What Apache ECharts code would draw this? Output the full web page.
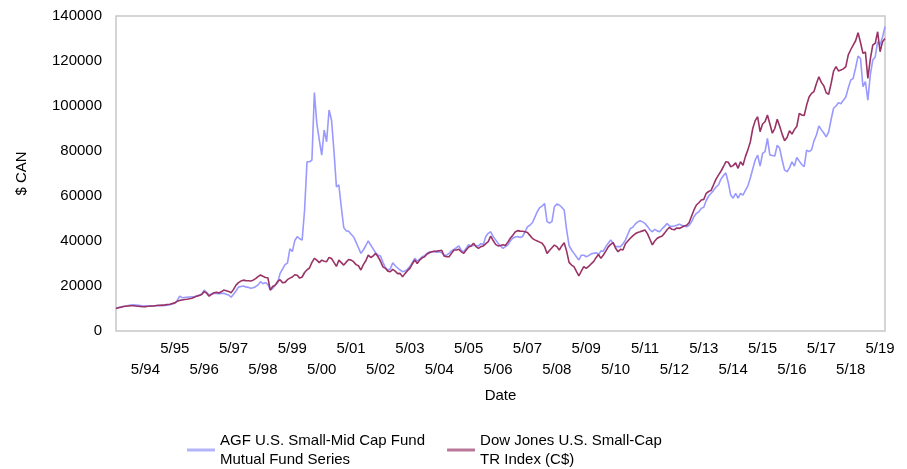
<!DOCTYPE html>
<html>
<head>
<meta charset="utf-8">
<script src="https://cdn.jsdelivr.net/npm/echarts@6/dist/echarts.min.js"></script>
<style>
  html, body { margin: 0; padding: 0; background: #fff; }
  #chart { width: 907px; height: 469px; }
</style>
</head>
<body>
<div id="chart"></div>
<script>
// Monthly growth of $10,000 (CAD), May 1993 to July 2019.
const startYear = 1993;
const startMonth = 5;
const monthCount = 315;

const seriesNames = [
  'AGF U.S. Small-Mid Cap Fund\nMutual Fund Series',
  'Dow Jones U.S. Small-Cap\nTR Index (C$)'
];

// AGF U.S. Small-Mid Cap Fund, one row per May-April year
const agfFund = [
  10000, 10400, 10700, 10900, 11100, 11300, 11500, 11600, 11500, 11400, 11300, 11100,
  11200, 11000, 11100, 11000, 11200, 11400, 11300, 11200, 11300, 11500, 11700, 12000,
  12300, 13600, 15500, 14800, 14900, 15000, 15100, 15200, 15300, 15600, 16000, 16400,
  18200, 17200, 16000, 16500, 16800, 16700, 16600, 16700, 16800, 16300, 16000, 15000,
  16300, 17800, 19500, 19800, 20000, 19600, 19400, 19000, 19200, 19700, 20500, 21900,
  21000, 21500, 20700, 18200, 19000, 20200, 21400, 25600, 27500, 29500, 30200, 36500,
  35300, 40200, 41900, 41000, 40400, 53800, 75200, 75200, 76000, 106000, 92300, 85000,
  78200, 89300, 84100, 98200, 93800, 80000, 64100, 64900, 55000, 46000, 44500, 44300,
  43000, 41900, 39500, 37000, 34500, 36000, 38000, 40100, 38200, 36500, 34800, 33700,
  33300, 30500, 28200, 27100, 27600, 30350, 29000, 28000, 27100, 26350, 26700, 27400,
  28600, 30500, 32300, 31100, 32000, 33000, 33500, 34500, 35200, 35200, 35400, 35000,
  35200, 34800, 33700, 33700, 34500, 35600, 36300, 37000, 37800, 35800, 35200, 36800,
  38300, 37800, 38000, 38000, 37800, 38800, 38500, 42000, 43400, 44100, 42000, 40500,
  39000, 37800, 36750, 37500, 38300, 40000, 41200, 41800, 42000, 41600, 42000, 44000,
  46300, 47000, 48100, 50500, 53000, 54800, 55500, 56700, 48600, 48000, 48600, 55200,
  56400, 56000, 55000, 53800, 44900, 38000, 36000, 34500, 33000, 31550, 33700, 33700,
  33000, 33500, 34300, 34500, 34800, 34000, 35500, 35500, 37500, 39000, 40400, 39000,
  37500, 37500, 37500, 38800, 40400, 43000, 45500, 46100, 47500, 48500, 49000, 48500,
  47800, 46500, 45000, 44100, 45200, 44500, 44100, 45500, 46500, 47800, 46700, 46500,
  46700, 47000, 47500, 47000, 46700, 46300, 47000, 48500, 50800, 52300, 53000, 54500,
  55000, 58000, 60000, 61200, 62500, 64000, 64900, 67500, 69000, 70300, 66000, 60400,
  59000, 61200, 59000, 61200, 60400, 62500, 64500, 68000, 72000, 76000, 78200, 73300,
  78900, 79700, 85600, 78200, 78000, 77800, 82600, 81200, 76000, 71500, 70800, 72500,
  75200, 73300, 77100, 75500, 74000, 73000, 80400, 79700, 80500, 84500, 87100, 91100,
  89500, 88000, 86300, 88500, 94000, 99000, 100000, 101500, 101000, 102600, 104000, 108000,
  111500, 112300, 117000, 122200, 121100, 108600, 110800, 102600, 113800, 120400, 121800, 128600,
  127100, 130700, 135200
];

// Dow Jones U.S. Small-Cap Total Return Index in Canadian dollars
const dowJonesIndex = [
  10000, 10300, 10600, 10900, 11000, 11100, 11200, 11200, 11100, 11000, 10900, 10800,
  10800, 11000, 11100, 11100, 11200, 11300, 11400, 11500, 11600, 11800, 11900, 12200,
  12500, 13200, 13600, 13800, 14000, 14100, 14300, 14600, 15000, 15500, 15800, 16200,
  17500, 16800, 15500, 16300, 17000, 17200, 16900, 17400, 18200, 17900, 17600, 17000,
  18500, 20400, 21500, 22200, 22600, 22400, 22300, 22200, 22600, 23300, 24200, 24900,
  24300, 23800, 23700, 18200, 19800, 20400, 22000, 22800, 21500, 21600, 22800, 23500,
  24000, 25000, 24800, 23500, 24000, 26000, 27200, 28000, 30500, 32300, 31500, 30400,
  31500, 31000, 30800, 32700, 32200, 30500, 28700, 31500, 30400, 29300, 30600, 31800,
  31500, 30800, 29500, 29000, 27100, 29500, 31200, 33700, 32700, 33300, 34500, 33000,
  31000, 28500, 27850, 26600, 26350, 27400, 26600, 25500, 25600, 24100, 25500, 26800,
  27850, 29800, 31550, 30000, 31500, 32500, 33000, 34200, 34800, 35200, 35400, 35500,
  35700, 35900, 33300, 33000, 33000, 34500, 36000, 36000, 36300, 35200, 34500, 36000,
  37300, 37800, 39000, 37500, 36750, 37500, 37800, 38800, 39700, 42200, 40200, 38500,
  37800, 38000, 38300, 38000, 39500, 41200, 42500, 44000, 44600, 44400, 44300, 44100,
  43800, 42500, 41200, 40500, 40000, 39500, 39000, 37500, 34500, 35800, 37000, 38200,
  37500, 36000, 37800, 39250, 35500, 30500, 29300, 28600, 26500, 24450, 26600, 28600,
  27800, 28700, 29800, 30800, 32600, 34000, 32300, 33800, 35500, 37400, 38500, 39250,
  36800, 35200, 36300, 36000, 38800, 40000, 41200, 42300, 43200, 43800, 44100, 44500,
  44900, 43300, 40800, 38300, 40000, 41200, 41800, 42200, 43500, 45000, 46100, 45200,
  45000, 45800, 45600, 46100, 46700, 47000, 48100, 51000, 53800, 56000, 57000, 58200,
  58500, 61200, 62000, 62500, 65000, 67500, 69300, 71000, 73000, 75200, 75000, 73000,
  73500, 74800, 72300, 75200, 73700, 77500, 80500, 84000, 90000, 93500, 95200, 88600,
  92000, 93000, 96000, 92000, 87900, 90000, 94100, 91000, 87500, 84600, 86000, 89000,
  87500, 89500, 91000, 96700, 96000, 95800, 100400, 104000, 105600, 106400, 110000, 113000,
  110500, 109000, 105900, 105200, 110000, 115500, 117500, 115600, 116000, 116500, 117500, 122700,
  125000, 127100, 129000, 132600, 128200, 123400, 124000, 112300, 120800, 127100, 127800, 133000,
  124100, 128600, 130000
];

// Value axis ticks
const yTicks = [0, 20000, 40000, 60000, 80000, 100000, 120000, 140000];

// Month labels "m/yy"
const months = [];
for (let i = 0; i < monthCount; i++) {
  const m = (startMonth - 1 + i) % 12 + 1;
  const y = startYear + Math.floor((startMonth - 1 + i) / 12);
  months.push(m + '/' + String(y % 100).padStart(2, '0'));
}

const font = '"Liberation Sans", Arial, sans-serif';
const chart = echarts.init(document.getElementById('chart'), null, { renderer: 'canvas' });

chart.setOption({
  backgroundColor: '#ffffff',
  animation: false,
  textStyle: { fontFamily: font, color: '#000' },
  grid: {
    left: 116, right: 22, top: 16, bottom: 138,
    show: true, borderColor: '#c8c8c8', borderWidth: 1.5
  },
  legend: {
    left: 182, top: 426,
    icon: 'rect',
    itemWidth: 28, itemHeight: 3, itemGap: 22,
    textStyle: { fontFamily: font, fontSize: 15, color: '#000', lineHeight: 19 },
    data: [
      { name: seriesNames[0], itemStyle: { color: '#b4b4fb' } },
      { name: seriesNames[1], itemStyle: { color: '#b8789a' } }
    ]
  },
  xAxis: {
    type: 'category',
    data: months,
    boundaryGap: false,
    name: 'Date',
    nameLocation: 'middle',
    nameGap: 57,
    nameTextStyle: { fontFamily: font, fontSize: 15, color: '#000' },
    axisLine: { show: false },
    axisTick: { show: false },
    splitLine: { show: false },
    axisLabel: {
      interval: (idx, val) => idx > 0 && val.indexOf('5/') === 0,
      margin: 7,
      fontSize: 15,
      lineHeight: 21,
      color: '#000',
      formatter: (val) => {
        const yr = parseInt(val.split('/')[1], 10);
        return yr % 2 === 1 ? val + '\n' : '\n' + val;
      }
    }
  },
  yAxis: {
    type: 'value',
    min: yTicks[0],
    max: yTicks[yTicks.length - 1],
    interval: yTicks[1] - yTicks[0],
    name: '$ CAN',
    nameLocation: 'middle',
    nameGap: 87,
    nameTextStyle: { fontFamily: font, fontSize: 15, color: '#000' },
    axisLine: { show: false },
    axisTick: { show: false },
    splitLine: { show: false },
    axisLabel: { margin: 14, fontSize: 15, color: '#000', formatter: (v) => String(v) }
  },
  series: [
    {
      name: seriesNames[0],
      type: 'line',
      data: agfFund,
      symbol: 'none',
      z: 2,
      lineStyle: { color: '#9999ff', width: 1.6 },
      itemStyle: { color: '#9999ff' }
    },
    {
      name: seriesNames[1],
      type: 'line',
      data: dowJonesIndex,
      symbol: 'none',
      z: 3,
      lineStyle: { color: '#993366', width: 1.6 },
      itemStyle: { color: '#993366' }
    }
  ]
});
</script>
</body>
</html>
